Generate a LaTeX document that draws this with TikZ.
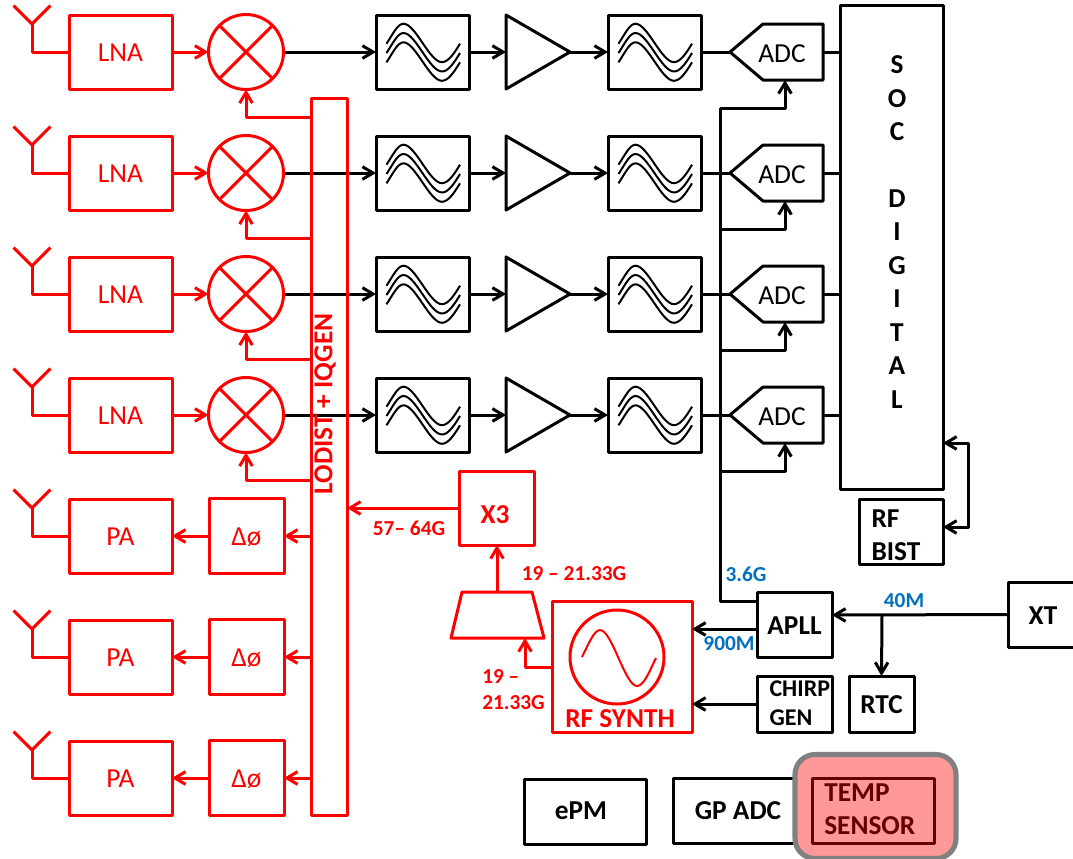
\documentclass[tikz,border=0pt]{standalone}
\usepackage{fontspec}
\setmainfont{Carlito}
\usetikzlibrary{arrows.meta}
\definecolor{lblblue}{HTML}{0070C0}
\definecolor{tempfill}{HTML}{FF9999}
\definecolor{tempdark}{HTML}{660000}
\begin{document}
\begin{tikzpicture}[
    x=0.75pt, y=-0.75pt,
    >={Straight Barb[length=8pt,width=9.5pt]},
    box/.style n args = {2}{rectangle, draw, inner sep=0pt, outer sep=0pt,
                minimum width=#1*0.75pt, minimum height=#2*0.75pt},
    ln/.style = {line width=2.25pt, line join=round},
    blk/.style = {ln, draw=black, text=black},
    rd/.style = {ln, draw=red, text=red},
    reg/.style = {font=\fontsize{20.6}{25}\selectfont, text height=14.8pt},
    bld/.style = {font=\fontsize{20.5}{25.1}\selectfont\bfseries},
    lbl/.style = {font=\fontsize{16}{19.5}\selectfont\bfseries, inner sep=0pt}
                    ]
        \clip (0,0) rectangle (1073,858);
        % receive rows, black part
        \foreach \y/\n in {52/1, 173/2, 294/3, 415/4} {
            \node[blk,box={93}{74}] at (422.5,\y) (fa\n) {};
            \node[blk,box={93}{74}] at (654.5,\y) (fb\n) {};
            \foreach \x in {422.5, 654.5}
                \foreach \k in {-9.3, 0, 9.3}
                    \draw[blk,line width=1.5pt,shift={(\x,\y+\k)}] (-36,1) .. controls (-30,-8) and (-25,-19) .. (-19,-19)
                        .. controls (-7,-19) and (7,19.5) .. (19.5,19.5) .. controls (26,19.5) and (32,10) .. (37.5,1);
            \coordinate (ampin\n) at (506,\y);
            \coordinate (ampout\n) at (570,\y);
            \draw[blk] (506,\y-37) -- (ampout\n) -- (506,\y+37) -- cycle;
            \coordinate (adcin\n) at (730,\y);
            \coordinate (adcck\n) at (785,\y+28);
            \coordinate (adcout\n) at (823,\y);
            \draw[blk] (adcin\n) -- (763,\y-28) -- (823,\y-28) -- (823,\y+28) -- (763,\y+28) -- cycle;
            \node[blk,reg,draw=none] at (782,\y+1) (adc\n) {ADC};
            \coordinate (ckbus\n) at (720,\y+56);
            \coordinate (socin\n) at (840,\y);
            \coordinate (mixout\n) at (284,\y);
            \draw[blk,->] (mixout\n) -- (fa\n.west);
            \draw[blk,->] (fa\n.east) -- (ampin\n);
            \draw[blk,->] (ampout\n) -- (fb\n.west);
            \draw[blk] (fb\n.east) -- (adcin\n);
            \draw[blk] (adcout\n) -- (socin\n);
            \draw[blk,->] (ckbus\n) -| (adcck\n);
        }
        % receive rows, red part
        \node[rd,box={36}{717}] at (329,456.5) (lo) {};
        \foreach \y/\n in {52/1, 173/2, 294/3, 415/4} {
            \coordinate (anta\n) at (32,\y-28);
            \draw[rd] (13.5,\y-46.5) -- (anta\n) -- (50.5,\y-46.5);
            \node[rd,reg,box={103}{74}] at (120.5,\y) (lna\n) {LNA};
            \draw[rd] (anta\n) |- (lna\n.west);
            \node[rd,circle,minimum size=75*0.75pt,inner sep=0pt,outer sep=0pt] at (246,\y) (mix\n) {};
            \draw[rd] (mix\n.45) -- (mix\n.225);
            \draw[rd] (mix\n.135) -- (mix\n.315);
            \draw[rd,->] (lna\n.east) -- (mix\n.west);
            \coordinate (lotap\n) at (311,\y+65);
            \draw[rd,->] (lotap\n) -| (mix\n.south);
        }
        % transmit rows
        \foreach \y/\n in {536/1, 657/2, 778/3} {
            \coordinate (antb\n) at (32,\y-28);
            \draw[rd] (13.5,\y-46.5) -- (antb\n) -- (50.5,\y-46.5);
            \node[rd,reg,box={103}{74}] at (120.5,\y) (pa\n) {PA};
            \draw[rd] (antb\n) |- (pa\n.west);
            \node[rd,reg,box={75}{75}] at (246.5,\y) (ph\n) {Δø};
            \coordinate (lotx\n) at (311,\y);
            \draw[rd,->] (ph\n.west) -- (pa\n.east);
            \draw[rd,->] (lotx\n) -- (ph\n.east);
        }
        \node[rd,bld,draw=none,rotate=90] at (325,404) (lotext) {LODIST + IQGEN};
        % synth path
        \node[rd,bld,box={75}{74}] at (496.5,508) (xthree) {};
        \node[rd,bld,draw=none] at (495,515) (xtext) {X3};
        \coordinate (loin) at (347,508);
        \draw[rd,->] (xthree.west) -- (loin);
        \node[lbl,text=red] at (409,528) (lblhi) {57– 64G};
        \coordinate (muxtop) at (497,592);
        \coordinate (muxbot) at (525,638);
        \draw[rd] (462,592) -- (532,592) -- (544,638) -- (451,638) -- cycle;
        \draw[rd,->] (muxtop) -- (muxtop |- xthree.south);
        \node[lbl,text=red] at (574,574) (lblmid) {19 – 21.33G};
        \node[rd,box={140}{131}] at (622,666.5) (synth) {};
        \node[rd,circle,minimum size=94*0.75pt,inner sep=0pt] at (617,657) (osc) {};
        \draw[rd,line width=1.5pt] (582,657) .. controls (588,645) and (594,630) .. (600,630)
            .. controls (612,630) and (625,686) .. (637,686) .. controls (644,686) and (650,670) .. (656,658);
        \node[rd,bld,draw=none] at (620,719) (synthtext) {RF SYNTH};
        \coordinate (synthout) at (552,667);
        \draw[rd,->] (synthout) -| (muxbot);
        \node[lbl,text=red,align=left,anchor=west] at (482,690) (lbllo) {19 –\\21.33G};
        % soc and clocks
        \node[blk,box={103}{484}] at (891.5,247) (soc) {};
        \node[blk,bld,draw=none,align=center,inner sep=0pt] at (897,232) (soctext) {S\\O\\C\\[25.1pt]D\\I\\G\\I\\T\\A\\L};
        \node[blk,box={84}{65}] at (901,531.5) (bist) {};
        \node[blk,bld,draw=none,align=left,anchor=west,inner sep=0pt] at (870,535) (bisttext) {RF\\BIST};
        \coordinate (socfb) at (943,443);
        \coordinate (bistfb) at (943,527);
        \draw[blk,<->] (socfb) -- (968,443) -- (968,527) -- (bistfb);
        \node[blk,bld,box={75}{65},text height=14.8pt] at (794.5,624.5) (apll) {APLL};
        \node[blk,box={75}{56}] at (794.5,704) (chirp) {};
        \node[blk,font=\fontsize{18}{22}\selectfont\bfseries,draw=none,align=left,anchor=west,inner sep=0pt] at (768,703.5) (chirptext) {CHIRP\\GEN};
        \node[blk,bld,box={65}{56},text height=14.8pt] at (881.5,704) (rtc) {RTC};
        \node[blk,bld,box={80}{65}] at (1048,614.5) (xt) {};
        \node[blk,bld,draw=none] at (1043,616) (xttext) {XT};
        \coordinate (aplltap) at (757,601);
        \draw[blk] (aplltap) -| (ckbus1);
        \coordinate (apllsyn) at (757,629);
        \coordinate (synin) at (692,629);
        \draw[blk,->] (apllsyn) -- (synin);
        \coordinate (chirpsyn) at (692,704);
        \draw[blk,->] (chirp.west) -- (chirpsyn);
        \coordinate (xtin) at (832,615);
        \draw[blk,->] (xt.west) -- (xtin);
        \coordinate (xttap) at (882,615);
        \draw[blk,->] (xttap) -- (rtc.north);
        \node[lbl,text=lblblue] at (746,574) (lblpll) {3.6G};
        \node[lbl,text=lblblue] at (729,644) (lblref) {900M};
        \node[lbl,text=lblblue] at (904,601) (lblxt) {40M};
        % bottom blocks
        \node[blk,box={122}{65}] at (585,811.5) (epm) {};
        \node[blk,bld,draw=none] at (581,811) (epmtext) {ePM};
        \node[blk,box={130}{65}] at (738,811) (gpadc) {};
        \node[blk,bld,draw=none] at (738,811) (gptext) {GP ADC};
        \node[rectangle,draw=gray,fill=tempfill,line width=3.8pt,rounded corners=20*0.75pt,
              minimum width=161*0.75pt,minimum height=104*0.75pt,inner sep=0pt] at (875.5,806.5) (temp) {};
        \node[ln,draw=tempdark,box={122}{65}] at (873,811) (tempbox) {};
        \node[bld,text=tempdark,align=left,anchor=west,inner sep=0pt] at (824,809) (temptext) {TEMP\\SENSOR};
    \end{tikzpicture}
\end{document}
